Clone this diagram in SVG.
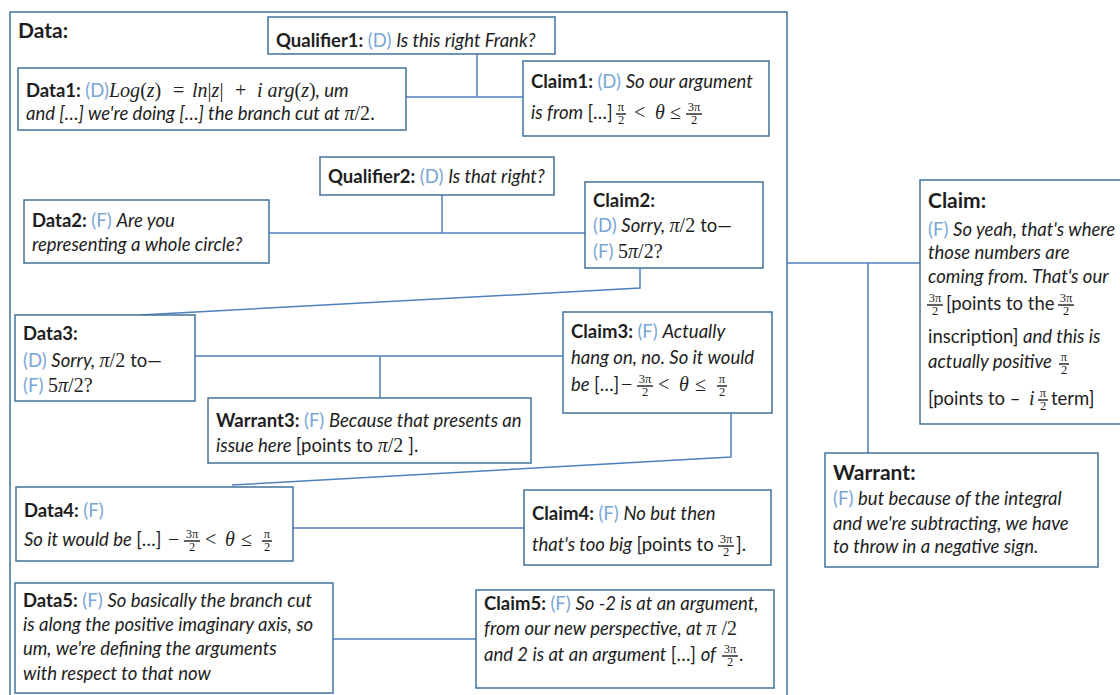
<svg xmlns="http://www.w3.org/2000/svg" width="1120" height="695" viewBox="0 0 1120 695">
<style>
  .box{fill:#fff;stroke:#41719c;stroke-width:1.5}
  .outer{fill:none;stroke:#41719c;stroke-width:1.5}
  .conn{fill:none;stroke:#4f81bd;stroke-width:1.5}
  text{font-family:Lato,"Open Sans",sans-serif;font-size:18.5px;fill:#1e1e1e}
  .b{font-weight:bold}
  .h{font-weight:bold;font-size:21px}
  .i{font-style:italic}
  .l{fill:#7aa6d6}
  .m{font-family:"Liberation Serif",serif;font-style:italic;font-size:20px}
  .mr{font-family:"Liberation Serif",serif;font-style:normal;font-size:20px}
  .n{font-family:"Liberation Serif",serif;font-size:12.5px;text-anchor:middle}
  .bar{stroke:#1e1e1e;stroke-width:1.4}
</style>
<defs>
  <!-- stacked fractions, centred on x=0 with the bar at y=0 -->
  <g id="f-pi2"><text class="n" x="0" y="-3">π</text><line class="bar" x1="-5" y1="0" x2="5" y2="0"/><text class="n" x="0" y="10">2</text></g>
  <g id="f-3pi2"><text class="n" x="0" y="-3">3π</text><line class="bar" x1="-8" y1="0" x2="8" y2="0"/><text class="n" x="0" y="10">2</text></g>
</defs>

<rect class="outer" x="10" y="12" width="777" height="700"/>
<text class="h" x="18" y="38">Data:</text>

<g id="connectors">
  <polyline class="conn" points="406,97 523,97"/>
  <polyline class="conn" points="477,54 477,97"/>
  <polyline class="conn" points="269,233 585,233"/>
  <polyline class="conn" points="442,195 442,233"/>
  <polyline class="conn" points="640,268 640,288 140,315"/>
  <polyline class="conn" points="195,356 563,356"/>
  <polyline class="conn" points="380,356 380,398"/>
  <polyline class="conn" points="731,413 731,457 232,485"/>
  <polyline class="conn" points="293,528 524,528"/>
  <polyline class="conn" points="333,639 476,639"/>
  <polyline class="conn" points="787,263 920,263"/>
  <polyline class="conn" points="868,263 868,453"/>
</g>

<g id="qualifier1">
  <rect class="box" x="268" y="17" width="287" height="37"/>
  <text x="276" y="47"><tspan class="b">Qualifier1: </tspan><tspan class="l">(D) </tspan><tspan class="i">Is this right Frank?</tspan></text>
</g>

<g id="data1">
  <rect class="box" x="18" y="68" width="388" height="62"/>
  <text x="26" y="97"><tspan class="b">Data1: </tspan><tspan class="l">(D)</tspan></text>
  <text x="109" y="97"><tspan class="m">Log</tspan><tspan class="mr">(</tspan><tspan class="m">z</tspan><tspan class="mr">)</tspan></text>
  <text class="mr" x="173" y="97">=</text>
  <text x="192" y="97"><tspan class="m">ln</tspan><tspan class="mr">|</tspan><tspan class="m">z</tspan><tspan class="mr">|</tspan></text>
  <text class="mr" x="235" y="97">+</text>
  <text x="257" y="97"><tspan class="m">i arg</tspan><tspan class="mr">(</tspan><tspan class="m">z</tspan><tspan class="mr">)</tspan><tspan class="i">, um</tspan></text>
  <text x="26" y="120"><tspan class="i">and […] we're doing […] the branch cut at </tspan><tspan class="m">π</tspan><tspan class="mr">/2.</tspan></text>
</g>

<g id="claim1">
  <rect class="box" x="523" y="61" width="246" height="75"/>
  <text x="531" y="88"><tspan class="b">Claim1: </tspan><tspan class="l">(D) </tspan><tspan class="i">So our argument</tspan></text>
  <text x="531" y="119"><tspan class="i">is from </tspan>[…]</text>
  <use href="#f-pi2" x="621" y="114"/>
  <text class="mr" x="634" y="119">&lt;</text>
  <text class="m" x="655" y="119">θ</text>
  <text class="mr" x="670" y="119">≤</text>
  <use href="#f-3pi2" x="694" y="114"/>
</g>

<g id="qualifier2">
  <rect class="box" x="320" y="157" width="234" height="38"/>
  <text x="328" y="183"><tspan class="b">Qualifier2: </tspan><tspan class="l">(D) </tspan><tspan class="i">Is that right?</tspan></text>
</g>

<g id="data2">
  <rect class="box" x="24" y="200" width="245" height="63"/>
  <text x="32" y="227"><tspan class="b">Data2: </tspan><tspan class="l">(F) </tspan><tspan class="i">Are you</tspan></text>
  <text class="i" x="32" y="251">representing a whole circle?</text>
</g>

<g id="claim2">
  <rect class="box" x="585" y="182" width="178" height="86"/>
  <text class="b" x="593" y="207">Claim2:</text>
  <text x="593" y="232"><tspan class="l">(D) </tspan><tspan class="i">Sorry, </tspan><tspan class="m">π</tspan><tspan class="mr">/2 </tspan>to—</text>
  <text x="593" y="258"><tspan class="l">(F) </tspan><tspan class="mr">5</tspan><tspan class="m">π</tspan><tspan class="mr">/2?</tspan></text>
</g>

<g id="data3">
  <rect class="box" x="15" y="315" width="180" height="86"/>
  <text class="b" x="23" y="340">Data3:</text>
  <text x="23" y="367"><tspan class="l">(D) </tspan><tspan class="i">Sorry, </tspan><tspan class="m">π</tspan><tspan class="mr">/2 </tspan>to—</text>
  <text x="23" y="392"><tspan class="l">(F) </tspan><tspan class="mr">5</tspan><tspan class="m">π</tspan><tspan class="mr">/2?</tspan></text>
</g>

<g id="claim3">
  <rect class="box" x="563" y="312" width="209" height="101"/>
  <text x="571" y="338"><tspan class="b">Claim3: </tspan><tspan class="l">(F) </tspan><tspan class="i">Actually</tspan></text>
  <text class="i" x="571" y="364">hang on, no. So it would</text>
  <text x="571" y="391"><tspan class="i">be </tspan>[…]</text>
  <text class="mr" x="621" y="391">−</text>
  <use href="#f-3pi2" x="645" y="386"/>
  <text class="mr" x="658" y="391">&lt;</text>
  <text class="m" x="679" y="391">θ</text>
  <text class="mr" x="695" y="391">≤</text>
  <use href="#f-pi2" x="722" y="386"/>
</g>

<g id="warrant3">
  <rect class="box" x="208" y="398" width="323" height="65"/>
  <text x="216" y="427"><tspan class="b">Warrant3: </tspan><tspan class="l">(F) </tspan><tspan class="i">Because that presents an</tspan></text>
  <text x="216" y="452"><tspan class="i">issue here </tspan>[points to <tspan class="m">π</tspan><tspan class="mr">/2 </tspan>].</text>
</g>

<g id="data4">
  <rect class="box" x="16" y="487" width="277" height="74"/>
  <text x="24" y="517"><tspan class="b">Data4: </tspan><tspan class="l">(F)</tspan></text>
  <text x="24" y="546"><tspan class="i">So it would be </tspan>[…]</text>
  <text class="mr" x="168" y="546">−</text>
  <use href="#f-3pi2" x="192" y="541"/>
  <text class="mr" x="205" y="546">&lt;</text>
  <text class="m" x="225" y="546">θ</text>
  <text class="mr" x="241" y="546">≤</text>
  <use href="#f-pi2" x="267" y="541"/>
</g>

<g id="claim4">
  <rect class="box" x="524" y="490" width="247" height="75"/>
  <text x="532" y="520"><tspan class="b">Claim4: </tspan><tspan class="l">(F) </tspan><tspan class="i">No but then</tspan></text>
  <text x="532" y="551"><tspan class="i">that's too big </tspan>[points to</text>
  <use href="#f-3pi2" x="726" y="546"/>
  <text x="736" y="551">].</text>
</g>

<g id="data5">
  <rect class="box" x="15" y="583" width="318" height="110"/>
  <text x="23" y="607"><tspan class="b">Data5: </tspan><tspan class="l">(F) </tspan><tspan class="i">So basically the branch cut</tspan></text>
  <text class="i" x="23" y="631">is along the positive imaginary axis, so</text>
  <text class="i" x="23" y="655">um, we're defining the arguments</text>
  <text class="i" x="23" y="680">with respect to that now</text>
</g>

<g id="claim5">
  <rect class="box" x="476" y="590" width="298" height="98"/>
  <text x="484" y="610"><tspan class="b">Claim5: </tspan><tspan class="l">(F) </tspan><tspan class="i">So -2 is at an argument,</tspan></text>
  <text x="484" y="635"><tspan class="i">from our new perspective, at </tspan><tspan class="m">π</tspan><tspan class="mr"> /2</tspan></text>
  <text x="484" y="661"><tspan class="i">and 2 is at an argument </tspan>[…] <tspan class="i">of</tspan></text>
  <use href="#f-3pi2" x="730" y="656"/>
  <text x="739" y="661">.</text>
</g>

<g id="claim">
  <rect class="box" x="920" y="180" width="210" height="244"/>
  <text class="h" x="928" y="208">Claim:</text>
  <text x="928" y="236"><tspan class="l">(F) </tspan><tspan class="i">So yeah, that's where</tspan></text>
  <text class="i" x="928" y="259">those numbers are</text>
  <text class="i" x="928" y="283">coming from. That's our</text>
  <use href="#f-3pi2" x="935" y="305"/>
  <text x="946" y="310">[points to the</text>
  <use href="#f-3pi2" x="1066" y="305"/>
  <text x="928" y="343">inscription] <tspan class="i">and this is</tspan></text>
  <text class="i" x="928" y="368">actually positive</text>
  <use href="#f-pi2" x="1064" y="364"/>
  <text x="928" y="405">[points to –</text>
  <text class="m" x="1029" y="405">i</text>
  <use href="#f-pi2" x="1043" y="400"/>
  <text x="1051" y="405">term]</text>
</g>

<g id="warrant">
  <rect class="box" x="825" y="453" width="273" height="114"/>
  <text class="h" x="833" y="480">Warrant:</text>
  <text x="833" y="505"><tspan class="l">(F) </tspan><tspan class="i">but because of the integral</tspan></text>
  <text class="i" x="833" y="530">and we're subtracting, we have</text>
  <text class="i" x="833" y="553">to throw in a negative sign.</text>
</g>
</svg>
